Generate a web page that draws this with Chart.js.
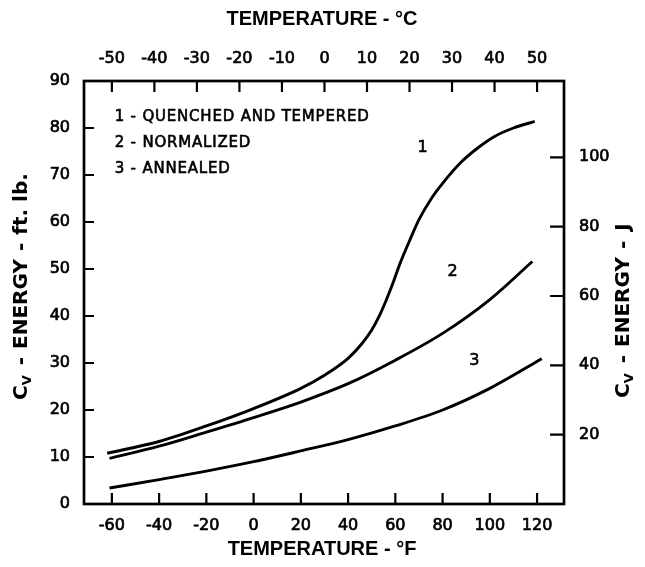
<!DOCTYPE html>
<html><head><meta charset="utf-8">
<script src="https://cdn.jsdelivr.net/npm/chart.js@4/dist/chart.umd.min.js"></script>
<style>html,body{margin:0;padding:0;background:#fff}#wrap{width:645px;height:567px}</style>
</head><body><div id="wrap"><canvas id="c" width="645" height="567"></canvas></div>
<script>
// ---- data ----
const tempF_1 = [-62,-40,-20,0,20,30,40,46,50,53,56,59,62,66,70,75,80,88,95,102,110,119];
const energy_1 = [10.8,13.3,16.6,20.3,24.6,27.4,31.0,34.2,37.0,39.8,43.2,47.0,51.2,56.0,60.5,64.8,68.2,72.8,75.8,78.2,80.0,81.4];
const tempF_2 = [-61,-40,-20,0,20,40,60,80,100,118];
const energy_2 = [9.7,12.3,15.3,18.4,21.7,25.6,30.6,36.3,43.5,51.6];
const tempF_3 = [-61,-40,-20,0,20,40,60,80,100,122];
const energy_3 = [3.4,5.2,7.0,9.0,11.3,13.7,16.6,20.0,24.6,30.9];

const ticksF = [-60,-40,-20,0,20,40,60,80,100,120];
const ticksC = [-50,-40,-30,-20,-10,0,10,20,30,40,50];
const ticksFtLb = [0,10,20,30,40,50,60,70,80,90];
const ticksJ = [20,40,60,80,100];

const legendLines = ['1 - QUENCHED AND TEMPERED','2 - NORMALIZED','3 - ANNEALED'];
const curveNames = ['1','2','3'];
const curveNameF = [71.5,84.2,93.4];
const curveNameE = [75.7,49.3,30.4];

const FTLB_TO_J = 1.3558;
const xMin = -71.8, xMax = 131.4, yMin = 0, yMax = 90;
// top °C scale as drawn: -50 sits over -60 °F, 50 over 120 °F
const cAt = f => -50 + (f + 60) * 100 / 180;

const toPts = (xs, ys) => xs.map((x, i) => ({x, y: ys[i]}));
const lineDs = (xs, ys) => ({data: toPts(xs, ys), showLine: true, borderColor: '#000', borderWidth: 2.9,
  pointRadius: 0, cubicInterpolationMode: 'monotone', fill: false});

const tickFont = {family: 'DejaVu Sans', size: 16};
const tickOpts = pad => ({font: tickFont, color: '#000', padding: pad, maxRotation: 0, textStrokeColor: '#000', textStrokeWidth: 0.7});
const keep = list => scale => { scale.ticks = list.map(v => ({value: v})); };

const deco = {
  id: 'deco',
  afterDraw(chart) {
    const {ctx, chartArea: {left, right, top, bottom}, scales} = chart;
    ctx.save();
    ctx.strokeStyle = '#000'; ctx.fillStyle = '#000';
    ctx.lineWidth = 2.7;
    ctx.strokeRect(left, top, right - left, bottom - top);
    ctx.lineWidth = 2.2;
    ctx.beginPath();
    scales.x.ticks.forEach(t => { const p = scales.x.getPixelForValue(t.value); ctx.moveTo(p, bottom); ctx.lineTo(p, bottom - 11); });
    scales.x2.ticks.forEach(t => { const p = scales.x2.getPixelForValue(t.value); ctx.moveTo(p, top); ctx.lineTo(p, top + 11); });
    scales.y.ticks.forEach(t => { if (t.value <= yMin || t.value >= yMax) return; const p = scales.y.getPixelForValue(t.value); ctx.moveTo(left, p); ctx.lineTo(left + 10, p); });
    scales.y2.ticks.forEach(t => { const p = scales.y2.getPixelForValue(t.value); ctx.moveTo(right, p); ctx.lineTo(right - 14, p); });
    ctx.stroke();

    // horizontal titles
    ctx.font = 'bold 20px "Liberation Sans"';
    ctx.textAlign = 'center'; ctx.textBaseline = 'middle';
    const cx = (left + right) / 2 - 2;
    ctx.fillText('TEMPERATURE - °C', cx, 19);
    ctx.fillText('TEMPERATURE - °F', cx, 549);

    // vertical titles with subscript V
    const vTitle = (x, yStart, rest) => {
      ctx.save();
      ctx.translate(x, yStart);
      ctx.rotate(-Math.PI / 2);
      ctx.textAlign = 'left'; ctx.textBaseline = 'middle';
      ctx.font = 'bold 20px "DejaVu Sans"';
      let pos = 0;
      ctx.fillText('C', pos, 0); pos += ctx.measureText('C').width;
      ctx.font = 'bold 13px "DejaVu Sans"';
      ctx.fillText('V', pos, 6); pos += ctx.measureText('V').width + 2;
      ctx.font = 'bold 20px "DejaVu Sans"';
      rest.forEach(([txt, gap]) => { pos += gap; ctx.fillText(txt, pos, 0); pos += ctx.measureText(txt).width; });
      ctx.restore();
    };
    vTitle(22, 400, [['-', 8], ['ENERGY', 8], ['-', 8], ['ft. lb.', 8]]);
    vTitle(624, 398, [['-', 8], ['ENERGY', 8], ['-', 8], ['J', 10]]);

    // legend
    ctx.font = '15px "DejaVu Sans"';
    ctx.letterSpacing = '0.8px';
    ctx.lineWidth = 0.6;
    ctx.textAlign = 'left'; ctx.textBaseline = 'middle';
    const lx = scales.x.getPixelForValue(-58.8);
    const ly = scales.y.getPixelForValue(82.4);
    legendLines.forEach((s, i) => { ctx.fillText(s, lx, ly + i * 26.3); ctx.strokeText(s, lx, ly + i * 26.3); });
    ctx.letterSpacing = '0px';

    // curve numbers
    ctx.font = '16px "DejaVu Sans"';
    ctx.textAlign = 'center';
    curveNames.forEach((s, i) => {
      const px = scales.x.getPixelForValue(curveNameF[i]), py = scales.y.getPixelForValue(curveNameE[i]);
      ctx.fillText(s, px, py); ctx.strokeText(s, px, py);
    });
    ctx.restore();
  }
};

new Chart(document.getElementById('c'), {
  type: 'scatter',
  data: {datasets: [lineDs(tempF_1, energy_1), lineDs(tempF_2, energy_2), lineDs(tempF_3, energy_3)]},
  options: {
    responsive: false, animation: false, devicePixelRatio: 1,
    layout: {padding: 0},
    plugins: {legend: {display: false}, tooltip: {enabled: false}},
    scales: {
      x: {type: 'linear', position: 'bottom', min: xMin, max: xMax,
        afterBuildTicks: keep(ticksF),
        afterFit: s => { s.height = 63; },
        ticks: tickOpts(12),
        grid: {display: false, drawTicks: false}, border: {display: false}},
      x2: {type: 'linear', position: 'top', min: cAt(xMin), max: cAt(xMax),
        afterBuildTicks: keep(ticksC),
        afterFit: s => { s.height = 81; },
        ticks: tickOpts(13),
        grid: {display: false, drawTicks: false}, border: {display: false}},
      y: {type: 'linear', position: 'left', min: yMin, max: yMax,
        afterBuildTicks: keep(ticksFtLb),
        afterFit: s => { s.width = 84; },
        ticks: tickOpts(14),
        grid: {display: false, drawTicks: false}, border: {display: false}},
      y2: {type: 'linear', position: 'right', min: yMin * FTLB_TO_J, max: yMax * FTLB_TO_J,
        afterBuildTicks: keep(ticksJ),
        afterFit: s => { s.width = 81; },
        ticks: tickOpts(15),
        grid: {display: false, drawTicks: false}, border: {display: false}}
    }
  },
  plugins: [deco]
});
</script></body></html>
